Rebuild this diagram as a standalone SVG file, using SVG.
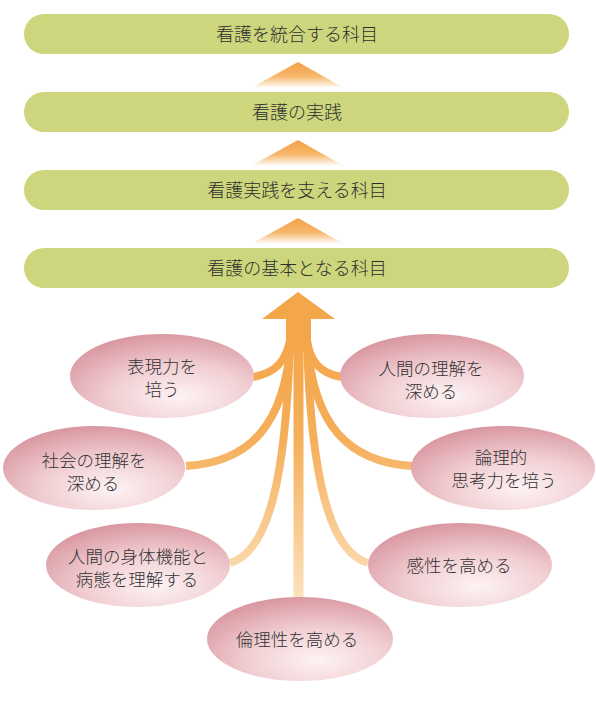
<svg xmlns="http://www.w3.org/2000/svg" width="596" height="716" viewBox="0 0 596 716">
<style>
.bar{fill:#cdd67c}
.bt{font-family:"Noto Sans CJK JP","Noto Sans",sans-serif;font-size:18px;font-weight:300;fill:#2e2e2e;text-anchor:middle}
.el{fill:url(#pink)}
.et{font-family:"Noto Sans CJK JP","Noto Sans",sans-serif;font-size:17.5px;font-weight:300;fill:#333;text-anchor:middle}
.tri{fill:url(#triG)}
.br{fill:none;stroke:url(#strokeG);stroke-width:8;stroke-linecap:butt}
</style>
<defs>
<linearGradient id="triG" x1="0" y1="0" x2="0" y2="1">
<stop offset="0" stop-color="#f3a247"/>
<stop offset="0.55" stop-color="#f6b66a"/>
<stop offset="1" stop-color="#ffffff"/>
</linearGradient>
<linearGradient id="strokeG" gradientUnits="userSpaceOnUse" x1="0" y1="330" x2="0" y2="600">
<stop offset="0" stop-color="#f4a64a"/>
<stop offset="0.4" stop-color="#f5ae5a"/>
<stop offset="1" stop-color="#fde3be"/>
</linearGradient>
<radialGradient id="pink" cx="0.6" cy="0.75" r="0.75" fx="0.6" fy="0.75">
<stop offset="0" stop-color="#fdf3f4"/>
<stop offset="0.5" stop-color="#f1cfd3"/>
<stop offset="1" stop-color="#da99a2"/>
</radialGradient>
</defs>

<g id="bar1"><rect class="bar" x="24" y="14" width="545" height="40" rx="20"/><text class="bt" x="297" y="40.5">看護を統合する科目</text></g>
<g id="bar2"><rect class="bar" x="24" y="92" width="545" height="40" rx="20"/><text class="bt" x="297" y="118.5">看護の実践</text></g>
<g id="bar3"><rect class="bar" x="24" y="170" width="545" height="40" rx="20"/><text class="bt" x="297" y="196.5">看護実践を支える科目</text></g>
<g id="bar4"><rect class="bar" x="24" y="248" width="545" height="40" rx="20"/><text class="bt" x="297" y="274.5">看護の基本となる科目</text></g>

<g id="connectors">
<polygon class="tri" points="298,62 344,88 251,88"/>
<polygon class="tri" points="298,140 344,166 251,166"/>
<polygon class="tri" points="298,218 344,244 251,244"/>
<path class="br" d="M253,377 C275,373 287,362 291,335"/>
<path class="br" d="M341,377 C320,373 309,362 306,335"/>
<path class="br" d="M186,466 C250,462 285,425 291,340"/>
<path class="br" d="M412,466 C348,462 313,425 307,340"/>
<path class="br" d="M230,563 C268,552 286,480 290,340"/>
<path class="br" d="M368,563 C330,552 311,480 307,340"/>
<path class="br" d="M298.5,600 L298.5,330" style="stroke-width:10"/>
<rect x="286" y="316" width="25" height="36" fill="#f4a64a"/>
<polygon points="298,292 335,319 262,319" fill="#f4a64a"/>
</g>

<g id="n1"><ellipse class="el" cx="162" cy="376" rx="92" ry="42"/><text class="et" x="162" y="373">表現力を</text><text class="et" x="162" y="396">培う</text></g>
<g id="n2"><ellipse class="el" cx="432" cy="376" rx="92" ry="42"/><text class="et" x="431" y="375">人間の理解を</text><text class="et" x="431" y="398">深める</text></g>
<g id="n3"><ellipse class="el" cx="94" cy="468" rx="91" ry="42"/><text class="et" x="94" y="467">社会の理解を</text><text class="et" x="93" y="490">深める</text></g>
<g id="n4"><ellipse class="el" cx="503" cy="468" rx="92" ry="42"/><text class="et" x="501" y="464">論理的</text><text class="et" x="504" y="487">思考力を培う</text></g>
<g id="n5"><ellipse class="el" cx="138" cy="565" rx="92" ry="42"/><text class="et" x="138" y="563">人間の身体機能と</text><text class="et" x="137" y="586">病態を理解する</text></g>
<g id="n6"><ellipse class="el" cx="460" cy="565" rx="92" ry="42"/><text class="et" x="459" y="571.5">感性を高める</text></g>
<g id="n7"><ellipse class="el" cx="300" cy="639" rx="93" ry="42"/><text class="et" x="297" y="645.5">倫理性を高める</text></g>
</svg>
